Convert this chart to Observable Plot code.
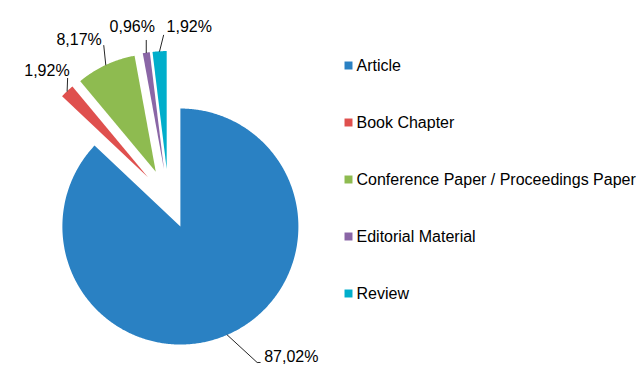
<!DOCTYPE html>
<html><head><meta charset="utf-8">
<script src="https://cdn.jsdelivr.net/npm/d3@7"></script>
<script src="https://cdn.jsdelivr.net/npm/@observablehq/plot@0.6"></script>
<style>
html,body{margin:0;padding:0;background:#fff;}
#chart{display:flex;width:644px;height:388px;overflow:hidden;}
</style></head><body><div id="chart"></div>
<script>
// ---- data ----
const categories = ["Article", "Book Chapter", "Conference Paper / Proceedings Paper", "Editorial Material", "Review"];
const percentages = [87.02, 1.92, 8.17, 0.96, 1.92];
const colors = ["#2A81C3", "#DF504E", "#8EBB50", "#8A66A6", "#00AECB"];

// ---- layout ----
const W = 644, H = 388, pieW = 340;
const cx = 168, cy = 198.5, R = 118, explode = 30;
const k = R;                 // pixels per data unit (pie radius = 1)
const ex = explode / R;
const FONT = "'Liberation Sans', Arial, sans-serif";

// label annotation layout (pixels): leader offset from slice edge, tail, text offset, anchor
const labelLayout = [
  {lead: [30, 27.6], tail: 3, text: [4, 0], anchor: "start"},
  {lead: [0.5, -12.8], tail: 0, text: [2, -2], anchor: "end"},
  {lead: [-2, -19.4], tail: 0, text: [-2, -1], anchor: "end"},
  {lead: [0, -12.3], tail: 0, text: [-14, -8], anchor: "middle"},
  {lead: [4, -16], tail: 0, text: [3, -3], anchor: "start"}
];

const fmt = v => v.toFixed(2).replace(".", ",") + "%";

const arcs = d3.pie().sort(null).value(d => d.value)(
  categories.map((c, i) => ({category: c, value: percentages[i]}))
);

const slicePts = [];
const leaderPts = [];
const labels = [];
arcs.forEach((p, i) => {
  const c = p.data.category;
  const mid = (p.startAngle + p.endAngle) / 2;
  const ox = ex * Math.sin(mid), oy = -ex * Math.cos(mid);
  slicePts.push({category: c, x: ox, y: oy});
  const n = Math.max(2, Math.ceil((p.endAngle - p.startAngle) / (Math.PI / 360)));
  for (let j = 0; j <= n; j++) {
    const a = p.startAngle + (p.endAngle - p.startAngle) * j / n;
    slicePts.push({category: c, x: ox + Math.sin(a), y: oy - Math.cos(a)});
  }
  // leader line
  const L = labelLayout[i];
  const sx = (1 + ex) * Math.sin(mid), sy = -(1 + ex) * Math.cos(mid);
  const exx = sx + L.lead[0] / k, eyy = sy + L.lead[1] / k;
  const tx = exx + L.tail / k;
  leaderPts.push({category: c, x: sx, y: sy});
  leaderPts.push({category: c, x: exx, y: eyy});
  if (L.tail) leaderPts.push({category: c, x: tx, y: eyy});
  labels.push({category: c, text: fmt(p.data.value), anchor: L.anchor,
    x: tx + L.text[0] / k, y: eyy + L.text[1] / k});
});

const textMark = anchor => Plot.text(labels.filter(d => d.anchor === anchor), {
  x: "x", y: "y", text: "text", textAnchor: anchor, lineAnchor: "bottom",
  fontSize: 16, fill: "#000"
});

const piePlot = Plot.plot({
  width: pieW, height: H, margin: 0,
  x: {domain: [-cx / k, (pieW - cx) / k], range: [0, pieW], axis: null},
  y: {domain: [-cy / k, (H - cy) / k], range: [0, H], axis: null},
  color: {domain: categories, range: colors},
  style: {fontFamily: FONT, fontSize: "16px", background: "#fff", overflow: "visible"},
  marks: [
    Plot.line(slicePts, {x: "x", y: "y", z: "category", fill: "category", stroke: null, curve: "linear-closed"}),
    Plot.line(leaderPts, {x: "x", y: "y", z: "category", stroke: "#262626", strokeWidth: 1}),
    textMark("start"), textMark("end"), textMark("middle")
  ]
});

const legendW = W - pieW;
const legendPlot = Plot.plot({
  width: legendW, height: H, margin: 0,
  x: {domain: [0, legendW], range: [0, legendW], axis: null},
  y: {type: "point", domain: categories, range: [64, 293], padding: 0, axis: null},
  color: {domain: categories, range: colors},
  style: {fontFamily: FONT, fontSize: "16px", background: "#fff", overflow: "visible"},
  marks: [
    Plot.dot(categories, {x: () => 8, y: d => d, fill: d => d, symbol: "square", r: 4.5}),
    Plot.text(categories, {x: () => 16, y: d => d, text: d => d, textAnchor: "start", fontSize: 16, fill: "#000"})
  ]
});

const chart = document.getElementById("chart");
chart.appendChild(piePlot);
chart.appendChild(legendPlot);
</script>
</body></html>
